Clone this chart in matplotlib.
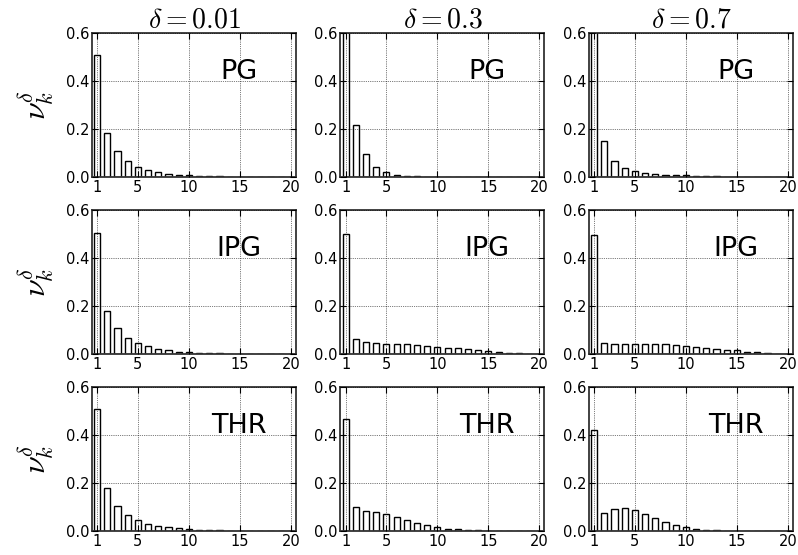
import matplotlib
matplotlib.use("Agg")
import matplotlib.pyplot as plt
import numpy as np

k = np.arange(1, 21)

deltas = ["0.01", "0.3", "0.7"]
methods = ["PG", "IPG", "THR"]

PG_001 = [0.51, 0.184, 0.108, 0.067, 0.040, 0.028, 0.020, 0.013, 0.010, 0.008, 0.005, 0.004, 0.003, 0.001, 0.001, 0, 0, 0, 0, 0]
PG_03 = [0.75, 0.215, 0.096, 0.041, 0.022, 0.008, 0.004, 0.003, 0.001, 0, 0, 0, 0, 0, 0, 0, 0, 0, 0, 0]
PG_07 = [0.78, 0.150, 0.067, 0.037, 0.026, 0.018, 0.014, 0.010, 0.009, 0.007, 0.004, 0.003, 0.003, 0.001, 0, 0, 0, 0, 0, 0]
IPG_001 = [0.505, 0.18, 0.11, 0.068, 0.045, 0.032, 0.022, 0.015, 0.010, 0.008, 0.005, 0.004, 0.003, 0.001, 0.001, 0, 0, 0, 0, 0]
IPG_03 = [0.50, 0.062, 0.051, 0.045, 0.041, 0.041, 0.040, 0.036, 0.033, 0.031, 0.027, 0.023, 0.019, 0.015, 0.011, 0.007, 0.004, 0.003, 0.001, 0]
IPG_07 = [0.495, 0.047, 0.041, 0.041, 0.041, 0.041, 0.040, 0.040, 0.038, 0.033, 0.029, 0.025, 0.021, 0.018, 0.015, 0.010, 0.007, 0.004, 0.001, 0]
THR_001 = [0.51, 0.18, 0.105, 0.068, 0.045, 0.030, 0.022, 0.016, 0.011, 0.008, 0.005, 0.004, 0.003, 0.001, 0.001, 0, 0, 0, 0, 0]
THR_03 = [0.465, 0.100, 0.084, 0.080, 0.071, 0.059, 0.046, 0.034, 0.025, 0.016, 0.009, 0.007, 0.004, 0.003, 0.001, 0, 0, 0, 0, 0]
THR_07 = [0.42, 0.077, 0.093, 0.097, 0.089, 0.072, 0.054, 0.038, 0.024, 0.015, 0.009, 0.004, 0.003, 0.001, 0, 0, 0, 0, 0, 0]

data = [[PG_001, PG_03, PG_07],
        [IPG_001, IPG_03, IPG_07],
        [THR_001, THR_03, THR_07]]

xticks = [1, 5, 10, 15, 20]
yticks = [0.0, 0.2, 0.4, 0.6]

plt.rcParams['mathtext.fontset'] = 'cm'
plt.rcParams['font.family'] = 'DejaVu Sans'

fig, axes = plt.subplots(3, 3, figsize=(7.98, 5.55), dpi=100)
fig.subplots_adjust(left=0.1153, right=0.9937, top=0.9405, bottom=0.0432,
                    wspace=0.218, hspace=0.23)

for i in range(3):
    for j in range(3):
        ax = axes[i, j]
        ax.bar(k, data[i][j], width=0.6, facecolor='white', edgecolor='black',
               linewidth=1.0, zorder=1)
        ax.set_xlim(0.5, 20.5)
        ax.set_ylim(0, 0.6)
        ax.set_xticks(xticks)
        ax.set_yticks(yticks)
        ax.set_yticklabels(["%.1f" % v for v in yticks])
        ax.grid(True, linestyle=':', color='k', linewidth=0.5, zorder=3)
        ax.set_axisbelow(False)
        ax.tick_params(direction='in', length=4, width=0.8, top=True, right=True,
                       labelsize=10.5, pad=2)
        for s in ax.spines.values():
            s.set_linewidth(1.3)
            s.set_color('#333333')
        ax.text(0.72, 0.68, methods[i], transform=ax.transAxes, ha='center',
                va='baseline', fontsize=19.5)
        if i == 0:
            ax.set_title(r"$\delta=%s$" % deltas[j], fontsize=20, pad=4)
        if j == 0:
            ax.set_ylabel(r"$\nu_k^\delta$", fontsize=23, labelpad=7)

fig.savefig("out.png", dpi=100, facecolor='white')
